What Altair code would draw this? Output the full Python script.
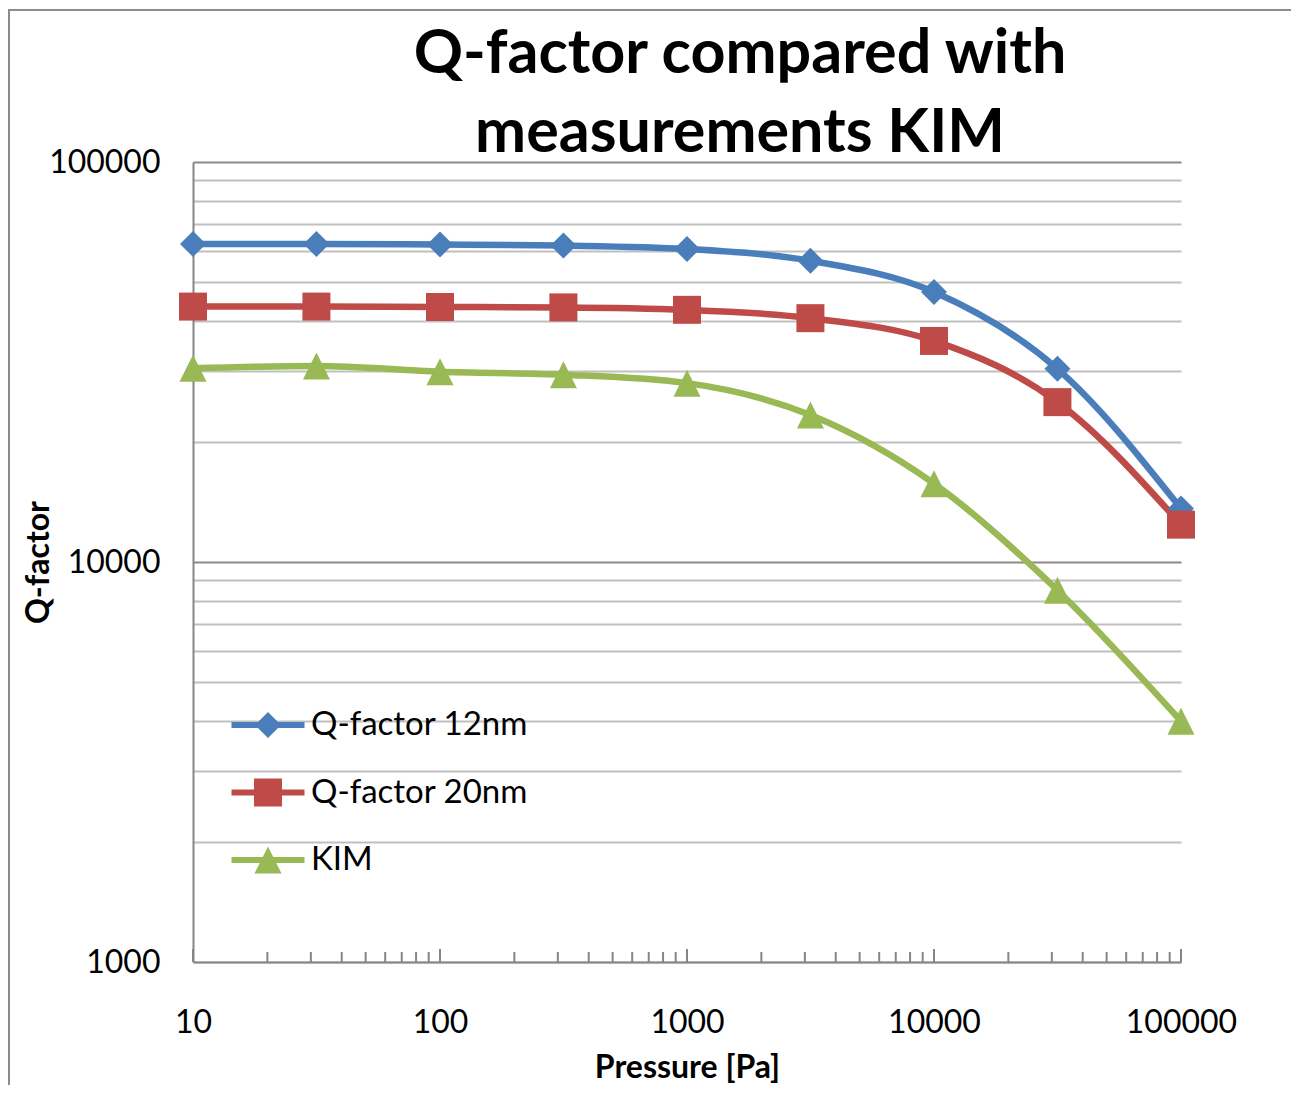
import altair as alt
import pandas as pd

# ---- data ----
pressure = [10, 31.6, 100, 316, 1000, 3160, 10000, 31600, 100000]
q12 = [62400, 62400, 62200, 61800, 60600, 56600, 47300, 30400, 13600]
q20 = [43500, 43500, 43400, 43300, 42700, 40700, 35700, 25100, 12400]
kim = [30500, 30900, 29900, 29400, 28000, 23300, 15700, 8500, 4000]
series_names = ["Q-factor 12nm", "Q-factor 20nm", "KIM"]
series_values = [q12, q20, kim]
colors = ["#4A7EBB", "#BE4B48", "#98B954"]

x_label_values = [10, 100, 1000, 10000, 100000]
y_label_values = [1000, 10000, 100000]
y_grid_values = [m * 10 ** e for e in (3, 4) for m in range(1, 10)] + [100000]
x_minor_values = [m * 10 ** e for e in (1, 2, 3, 4) for m in range(2, 10)]

rows = []
for name, vals in zip(series_names, series_values):
    for p, v in zip(pressure, vals):
        rows.append({"series": name, "pressure": p, "q": v})
df = pd.DataFrame(rows)

ticks_df = pd.DataFrame(
    [{"v": v, "major": True} for v in x_label_values]
    + [{"v": v, "major": False} for v in x_minor_values]
)

FONT = "Lato"
W, H = 988, 800

xscale = alt.Scale(type="log", domain=[10, 100000], nice=False)
yscale = alt.Scale(type="log", domain=[1000, 100000], nice=False)
cscale = alt.Scale(domain=series_names, range=colors)

legend_paths = [
    "M-1.825,-0.15L1.825,-0.15L1.825,0.15L-1.825,0.15ZM0,-0.65L0.65,0L0,0.65L-0.65,0Z",
    "M-1.825,-0.15L1.825,-0.15L1.825,0.15L-1.825,0.15ZM-0.7,-0.7L0.7,-0.7L0.7,0.7L-0.7,0.7Z",
    "M-1.825,-0.15L1.825,-0.15L1.825,0.15L-1.825,0.15ZM0,-0.675L0.675,0.675L-0.675,0.675Z",
]

x_axis = alt.Axis(
    values=x_label_values, format="d", grid=False, ticks=False, tickSize=0,
    domainColor="#868686", domainWidth=2,
    labelFont=FONT, labelFontSize=32, labelColor="black",
    labelPadding=60, labelBaseline="middle", labelFlush=False, labelOverlap=False,
    title="Pressure [Pa]", titleFont=FONT, titleFontSize=32, titleFontWeight="bold",
    titleColor="black", titleY=105, titleBaseline="middle",
)
y_axis = alt.Axis(
    values=y_grid_values, format="d",
    labelExpr="indexof([1000,10000,100000], datum.value) >= 0 ? datum.label : ''",
    grid=True,
    gridColor={"condition": {"test": "datum.value == 10000 || datum.value == 100000",
                             "value": "#8A8A8A"}, "value": "#C0C0C0"},
    gridWidth=2, ticks=False, tickSize=0,
    domainColor="#868686", domainWidth=2,
    labelFont=FONT, labelFontSize=32, labelColor="black",
    labelPadding=33, labelFlush=False, labelOverlap=False,
    title="Q-factor", titleFont=FONT, titleFontSize=32, titleFontWeight="bold",
    titleColor="black", titleX=-155, titleBaseline="middle",
)

base = alt.Chart(df)
X = alt.X("pressure:Q", scale=xscale, axis=x_axis)
Y = alt.Y("q:Q", scale=yscale, axis=y_axis)

marker_shapes = ["diamond", "square", "M0,-1L1,1L-1,1Z"]
marker_sizes = [676, 784, 729]
line_layers, point_layers = [], []
for name, col, shp, sz in zip(series_names, colors, marker_shapes, marker_sizes):
    sub = base.transform_filter(alt.datum.series == name)
    line_layers.append(
        sub.mark_line(interpolate="monotone", strokeWidth=6.5, strokeCap="round", color=col)
        .encode(x=X, y=Y)
    )
    point_layers.append(
        sub.mark_point(filled=True, opacity=1, shape=shp, size=sz, color=col)
        .encode(x=X, y=Y)
    )

leg = alt.Legend(
    title=None, orient="none", legendX=55, legendY=543,
    labelFont=FONT, labelFontSize=33, labelColor="black", labelLimit=400,
    symbolSize=1600, symbolStrokeWidth=0, symbolOpacity=1,
    labelOffset=23, rowPadding=30.5, padding=0,
)
legend_layer = base.mark_point(filled=True, opacity=0, size=1600).encode(
    x=X, y=Y,
    color=alt.Color("series:N", scale=cscale, legend=leg),
    shape=alt.Shape("series:N", scale=alt.Scale(domain=series_names, range=legend_paths), legend=leg),
)

tick_major = alt.Chart(ticks_df).transform_filter(alt.datum.major == True).mark_rule(
    color="#868686", strokeWidth=2
).encode(x=alt.X("v:Q", scale=xscale), y=alt.value(H), y2=alt.value(H - 13))
tick_minor = alt.Chart(ticks_df).transform_filter(alt.datum.major == False).mark_rule(
    color="#868686", strokeWidth=2
).encode(x=alt.X("v:Q", scale=xscale), y=alt.value(H), y2=alt.value(H - 10))

frame = alt.Chart(pd.DataFrame({"f": [0]})).mark_rect(
    fill=None, stroke="#8C8C8C", strokeWidth=2
).encode(x=alt.value(-184), x2=alt.value(1300), y=alt.value(-152), y2=alt.value(1200))

chart = alt.layer(
    frame, tick_minor, tick_major, *line_layers, *point_layers, legend_layer
).properties(
    width=W, height=H,
    title=alt.TitleParams(
        text=["Q-factor compared with", "measurements KIM"],
        font=FONT, fontSize=61, fontWeight="bold", color="black",
        lineHeight=79, anchor="middle", dx=53, dy=156, offset=0,
    ),
    autosize=alt.AutoSizeParams(type="none"),
    padding={"left": 185, "top": 154, "right": 110, "bottom": 123},
).configure_view(stroke=None)

chart.save("out.html", embed_options={"renderer": "svg", "actions": False})
